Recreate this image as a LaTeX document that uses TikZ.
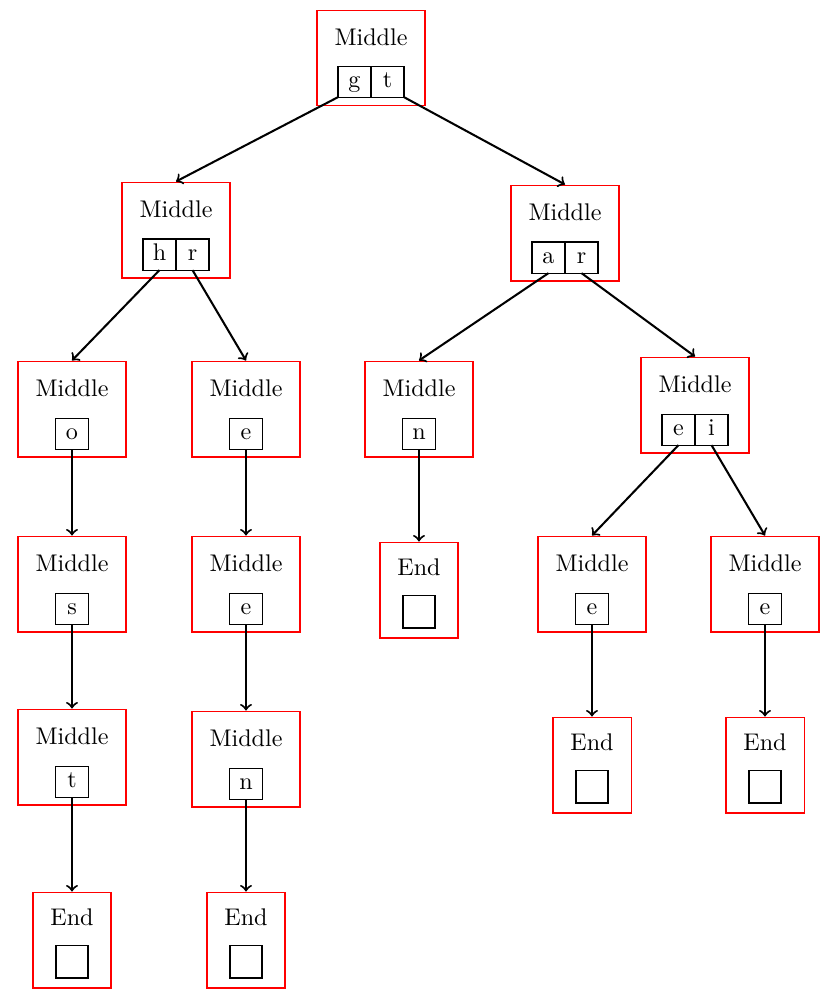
\documentclass[tikz,border=0pt]{standalone}
\usepackage{tikz}
\usetikzlibrary{positioning, arrows}

\tikzstyle{midbox} = [rectangle, draw=red, line width=0.45pt, minimum width=44.8pt, minimum height=39.8pt]
\tikzstyle{endbox} = [rectangle, draw=red, line width=0.45pt, minimum width=32.4pt, minimum height=39.8pt]
\tikzstyle{word} = [inner sep=0pt]
\tikzstyle{cell} = [rectangle, draw=black, line width=0.45pt, inner sep=0pt, outer sep=0pt, minimum width=13.7pt, minimum height=12.9pt, text height=8.7pt, text depth=4.2pt]
\tikzstyle{leaf} = [cell, minimum width=13.3pt, minimum height=13.3pt]
\tikzstyle{arrow} = [line width=0.85pt,->]

\begin{document}
\begin{tikzpicture}[x=0.415pt, y=-0.415pt]

\useasboundingbox (0,0) rectangle (830,999);

% level 0
\node (root) [midbox] at (371,58) {};
\node (root-w) [word] at ([yshift=8.7pt]root.center) {Middle};
\node (root-g) [cell, anchor=east] at ([yshift=-9.8pt]root.center) {g};
\node (root-t) [cell, right=0pt of root-g] {t};

% level 1
\node (hr) [midbox] at (176,230) {};
\node (hr-w) [word] at ([yshift=8.7pt]hr.center) {Middle};
\node (hr-h) [cell, anchor=east] at ([yshift=-10.2pt]hr.center) {h};
\node (hr-r) [cell, right=0pt of hr-h] {r};

\node (ar) [midbox] at (565,233) {};
\node (ar-w) [word] at ([yshift=8.7pt]ar.center) {Middle};
\node (ar-a) [cell, anchor=east] at ([yshift=-10.2pt]ar.center) {a};
\node (ar-r) [cell, right=0pt of ar-a] {r};

% level 2
\node (o) [midbox] at (72,409) {};
\node (o-w) [word] at ([yshift=8.7pt]o.center) {Middle};
\node (o-o) [cell] at ([yshift=-10.2pt]o.center) {o};

\node (e1) [midbox] at (246,409) {};
\node (e1-w) [word] at ([yshift=8.7pt]e1.center) {Middle};
\node (e1-e) [cell] at ([yshift=-10.2pt]e1.center) {e};

\node (n1) [midbox] at (419,409) {};
\node (n1-w) [word] at ([yshift=8.7pt]n1.center) {Middle};
\node (n1-n) [cell] at ([yshift=-10.2pt]n1.center) {n};

\node (ei) [midbox] at (695,405) {};
\node (ei-w) [word] at ([yshift=8.7pt]ei.center) {Middle};
\node (ei-e) [cell, anchor=east] at ([yshift=-10.2pt]ei.center) {e};
\node (ei-i) [cell, right=0pt of ei-e] {i};

% level 3
\node (s) [midbox] at (72,584) {};
\node (s-w) [word] at ([yshift=8.7pt]s.center) {Middle};
\node (s-s) [cell] at ([yshift=-10.2pt]s.center) {s};

\node (e2) [midbox] at (246,584) {};
\node (e2-w) [word] at ([yshift=8.7pt]e2.center) {Middle};
\node (e2-e) [cell] at ([yshift=-10.2pt]e2.center) {e};

\node (end1) [endbox] at (419,590) {};
\node (end1-w) [word] at ([yshift=9.3pt]end1.center) {End};
\node (end1-b) [leaf] at ([yshift=-9.1pt]end1.center) {};

\node (e3) [midbox] at (592,584) {};
\node (e3-w) [word] at ([yshift=8.7pt]e3.center) {Middle};
\node (e3-e) [cell] at ([yshift=-10.2pt]e3.center) {e};

\node (e4) [midbox] at (765,584) {};
\node (e4-w) [word] at ([yshift=8.7pt]e4.center) {Middle};
\node (e4-e) [cell] at ([yshift=-10.2pt]e4.center) {e};

% level 4
\node (t) [midbox] at (72,757) {};
\node (t-w) [word] at ([yshift=8.7pt]t.center) {Middle};
\node (t-t) [cell] at ([yshift=-10.2pt]t.center) {t};

\node (n2) [midbox] at (246,759) {};
\node (n2-w) [word] at ([yshift=8.7pt]n2.center) {Middle};
\node (n2-n) [cell] at ([yshift=-10.2pt]n2.center) {n};

\node (end2) [endbox] at (592,765) {};
\node (end2-w) [word] at ([yshift=9.3pt]end2.center) {End};
\node (end2-b) [leaf] at ([yshift=-9.1pt]end2.center) {};

\node (end3) [endbox] at (765,765) {};
\node (end3-w) [word] at ([yshift=9.3pt]end3.center) {End};
\node (end3-b) [leaf] at ([yshift=-9.1pt]end3.center) {};

% level 5
\node (end4) [endbox] at (72,940) {};
\node (end4-w) [word] at ([yshift=9.3pt]end4.center) {End};
\node (end4-b) [leaf] at ([yshift=-9.1pt]end4.center) {};

\node (end5) [endbox] at (246,940) {};
\node (end5-w) [word] at ([yshift=9.3pt]end5.center) {End};
\node (end5-b) [leaf] at ([yshift=-9.1pt]end5.center) {};

% edges
\draw [arrow] (root-g.south west) -- (hr.north);
\draw [arrow] (root-t.south east) -- (ar.north);
\draw [arrow] (hr-h.south) -- (o.north);
\draw [arrow] (hr-r.south) -- (e1.north);
\draw [arrow] (ar-a.south) -- (n1.north);
\draw [arrow] (ar-r.south) -- (ei.north);
\draw [arrow] (o-o.south) -- (s.north);
\draw [arrow] (e1-e.south) -- (e2.north);
\draw [arrow] (n1-n.south) -- (end1.north);
\draw [arrow] (ei-e.south) -- (e3.north);
\draw [arrow] (ei-i.south) -- (e4.north);
\draw [arrow] (s-s.south) -- (t.north);
\draw [arrow] (e2-e.south) -- (n2.north);
\draw [arrow] (e3-e.south) -- (end2.north);
\draw [arrow] (e4-e.south) -- (end3.north);
\draw [arrow] (t-t.south) -- (end4.north);
\draw [arrow] (n2-n.south) -- (end5.north);

\end{tikzpicture}
\end{document}
